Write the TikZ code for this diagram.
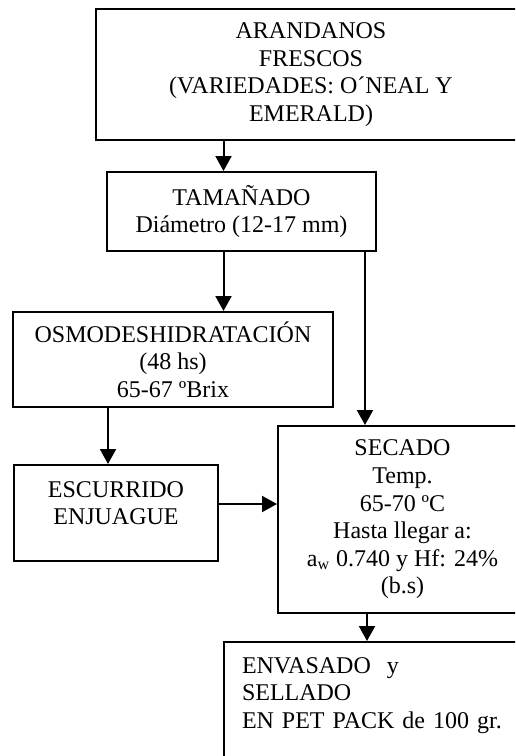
\documentclass[tikz,border=0pt]{standalone}
\usepackage{fontspec}
\setmainfont{Liberation Serif}
\usetikzlibrary{arrows.meta}
\tikzset{
	caja/.style={draw, line width=1pt, align=center, inner sep=0pt},
	flecha/.style={line width=1pt, -{Triangle[length=7.5pt,width=8pt]}}
}

\begin{document}
\begin{tikzpicture}[x=0.5pt, y=-0.5pt, font=\fontsize{12pt}{13.8pt}\selectfont]
	\useasboundingbox (0,0) rectangle (515,756);
	\clip (0,0) rectangle (515,756);
	% cajas del proceso
	\node[caja, minimum width=215pt, minimum height=65.5pt] (frescos) at (311,74.5)
		{ARANDANOS\\FRESCOS\\(VARIEDADES: O´NEAL Y\\EMERALD)};
	\node[caja, minimum width=134.5pt, minimum height=39.5pt] (tamanado) at (241.5,211.5)
		{TAMAÑADO\\Diámetro (12-17 mm)};
	\node[caja, minimum width=160pt, minimum height=47.5pt] (osmo) at (173,359.5)
		{OSMODESHIDRATACIÓN\\(48 hs)\\65-67 ºBrix};
	\node[caja, anchor=north west, text width=102pt, text height=16pt, text depth=32pt] (escurrido) at (13,464)
		{ESCURRIDO\\ENJUAGUE};
	\node[caja, minimum width=124.5pt, minimum height=93.5pt] (secado) at (402.5,519.5)
		{SECADO\\Temp.\\65-70 ºC\\Hasta llegar a:\\a\textsubscript{w} 0.740 y Hf: 24\%\\(b.s)};
	\node[caja, anchor=north west, align=left, inner xsep=9pt, text width=142pt, text height=15.5pt, text depth=54pt] (envasado) at (223,641)
		{ENVASADO\ \ y\\SELLADO\\EN PET PACK de 100 gr.};
	% flechas
	\coordinate (x1) at (223.5,0);
	\coordinate (x2) at (365,0);
	\coordinate (x3) at (108,0);
	\coordinate (x4) at (367,0);
	\coordinate (y1) at (0,504);
	\draw[flecha] (x1 |- frescos.south) -- (x1 |- tamanado.north);
	\draw[flecha] (x1 |- tamanado.south) -- (x1 |- osmo.north);
	\draw[flecha] (x2 |- tamanado.south) -- (x2 |- secado.north);
	\draw[flecha] (x3 |- osmo.south) -- (x3 |- escurrido.north);
	\draw[flecha] (escurrido.east |- y1) -- (secado.west |- y1);
	\draw[flecha] (x4 |- secado.south) -- (x4 |- envasado.north);
\end{tikzpicture}
\end{document}
